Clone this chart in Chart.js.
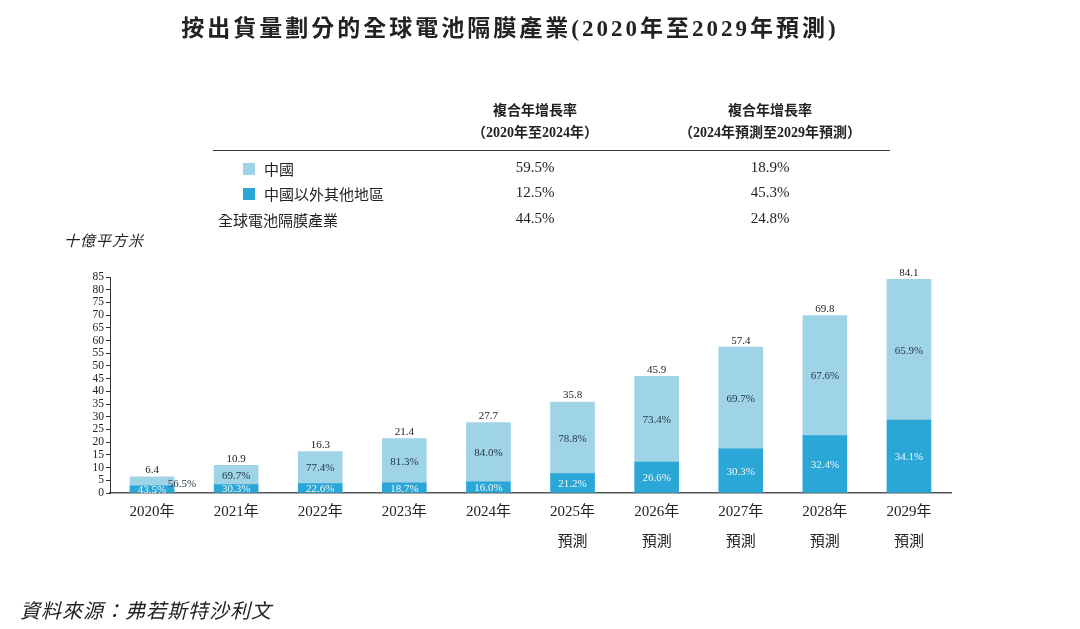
<!DOCTYPE html>
<html>
<head>
<meta charset="utf-8">
<script src="https://cdn.jsdelivr.net/npm/chart.js@4"></script>
<style>
    body{ margin:0; background:#fff; }
    #wrap{ position:relative; width:1080px; height:629px; overflow:hidden;
           font-family:'Liberation Serif','Noto Sans CJK TC',serif; color:#222; }
    #chart{ position:absolute; left:0; top:0; }
    .t{ position:absolute; white-space:nowrap; }
    .title{ left:0; width:1020px; top:9px; text-align:center; font-size:23px; font-weight:bold; letter-spacing:3px; }
    .hd{ font-size:14px; font-weight:bold; text-align:center; width:260px; }
    .cell{ font-size:15px; text-align:center; width:120px; }
    .lab{ font-size:15px; }
    .sq{ position:absolute; width:12px; height:12px; }
    .rule{ position:absolute; left:213px; top:150px; width:677px; height:1px; background:#333; }
    .it{ font-style:italic; }
</style>
</head>
<body>
<div id="wrap">
    <canvas id="chart" width="1080" height="629"></canvas>
    <div class="t title">按出貨量劃分的全球電池隔膜產業(2020年至2029年預測)</div>

    <div class="t hd" style="left:405px;top:99px;">複合年增長率</div>
    <div class="t hd" style="left:405px;top:121px;">（2020年至2024年）</div>
    <div class="t hd" style="left:640px;top:99px;">複合年增長率</div>
    <div class="t hd" style="left:640px;top:121px;">（2024年預測至2029年預測）</div>
    <div class="rule"></div>

    <div class="sq" style="left:243px;top:163px;background:#9fd3e6;"></div>
    <div class="t lab" style="left:264px;top:158px;">中國</div>
    <div class="sq" style="left:243px;top:188px;background:#2aa7d6;"></div>
    <div class="t lab" style="left:264px;top:183px;">中國以外其他地區</div>
    <div class="t lab" style="left:218px;top:209px;">全球電池隔膜產業</div>

    <div id="cagr"></div>

    <div class="t it" style="left:64px;top:229px;font-size:15px;letter-spacing:1px;">十億平方米</div>
    <div class="t it" style="left:20px;top:595px;font-size:20px;letter-spacing:1px;">資料來源：弗若斯特沙利文</div>
</div>

<script>

/* ==========================================================
   DATA
========================================================== */

const years = ["2020年","2021年","2022年","2023年","2024年","2025年","2026年","2027年","2028年","2029年"];

const forecastFrom = 5;

const restOfWorld = [2.8, 3.3, 3.7, 4.0, 4.4, 7.6, 12.2, 17.4, 22.6, 28.7];

const china = [3.6, 7.6, 12.6, 17.4, 23.3, 28.2, 33.7, 40.0, 47.2, 55.4];

const totals = ["6.4","10.9","16.3","21.4","27.7","35.8","45.9","57.4","69.8","84.1"];

const restShare = ["43.5%","30.3%","22.6%","18.7%","16.0%","21.2%","26.6%","30.3%","32.4%","34.1%"];

const chinaShare = ["56.5%","69.7%","77.4%","81.3%","84.0%","78.8%","73.4%","69.7%","67.6%","65.9%"];

const cagrRows = ["中國","中國以外其他地區","全球電池隔膜產業"];

const cagr2020to2024 = ["59.5%","12.5%","44.5%"];

const cagr2024to2029 = ["18.9%","45.3%","24.8%"];

const yTicks = [0,5,10,15,20,25,30,35,40,45,50,55,60,65,70,75,80,85];


/* ==========================================================
   CAGR TABLE
========================================================== */

const cagrBox = document.getElementById("cagr");
const rowTops = [159, 184, 210];

cagrRows.forEach(function(row, i){
    cagrBox.insertAdjacentHTML("beforeend",
        '<div class="t cell" style="left:475px;top:' + rowTops[i] + 'px;">' + cagr2020to2024[i] + '</div>' +
        '<div class="t cell" style="left:710px;top:' + rowTops[i] + 'px;">' + cagr2024to2029[i] + '</div>');
});


/* ==========================================================
   BAR LABELS PLUGIN
========================================================== */

const serif = "'Liberation Serif', 'Noto Sans CJK TC', serif";

const barLabels = {
    id:"barLabels",
    afterDatasetsDraw(chart){
        const ctx = chart.ctx;
        const rest = chart.getDatasetMeta(0).data;
        const cn = chart.getDatasetMeta(1).data;
        ctx.save();
        ctx.font = "11px " + serif;
        ctx.textAlign = "center";
        ctx.textBaseline = "middle";
        years.forEach(function(y, i){
            const r = rest[i], c = cn[i];
            // very short bar: move the China share out to the right
            const squeeze = (r.base - c.y) < 20;
            ctx.fillStyle = "#eef8fc";
            ctx.fillText(restShare[i], r.x, (r.y + r.base) / 2 + 1);
            ctx.fillStyle = "#24384a";
            ctx.fillText(chinaShare[i], c.x + (squeeze ? 30 : 0), (c.y + c.base) / 2 + (squeeze ? 3 : 1));
            ctx.fillStyle = "#222";
            ctx.textBaseline = "bottom";
            ctx.fillText(totals[i], c.x, c.y - 1);
            ctx.textBaseline = "middle";
        });
        ctx.restore();
    }
};


/* ==========================================================
   CHART
========================================================== */

const labels = years.map(function(y, i){
    return i >= forecastFrom ? [y, "預測"] : y;
});

new Chart(document.getElementById("chart").getContext("2d"), {
    type:"bar",
    data:{
        labels:labels,
        datasets:[
            { label:"中國以外其他地區", data:restOfWorld, backgroundColor:"#2aa7d6", barThickness:44 },
            { label:"中國", data:china, backgroundColor:"#9fd3e6", barThickness:44 }
        ]
    },
    options:{
        responsive:false,
        animation:false,
        layout:{ padding:{ left:70, right:129, top:277, bottom:76 } },
        plugins:{ legend:{ display:false }, tooltip:{ enabled:false } },
        scales:{
            x:{
                stacked:true,
                grid:{ display:false },
                border:{ color:"#555", width:1.5 },
                ticks:{ color:"#222", font:{ family:serif, size:15, lineHeight:2 }, padding:-4 },
                afterFit(scale){ scale.height = 60; }
            },
            y:{
                stacked:true,
                min:0,
                max:85,
                afterBuildTicks(scale){ scale.ticks = yTicks.map(function(v){ return { value:v }; }); },
                grid:{ drawOnChartArea:false, tickLength:4, color:"#333" },
                border:{ color:"#333", width:1 },
                ticks:{ color:"#222", font:{ family:serif, size:11.5 }, padding:2, autoSkip:false },
                afterFit(scale){ scale.width = 40; }
            }
        }
    },
    plugins:[barLabels]
});

</script>
</body>
</html>
